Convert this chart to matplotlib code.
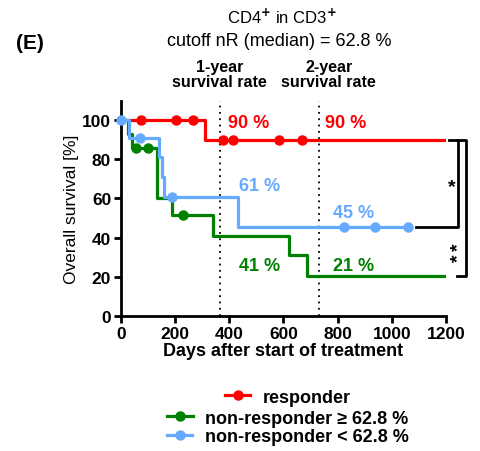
import matplotlib
matplotlib.use("Agg")
import matplotlib.pyplot as plt
from matplotlib.lines import Line2D

plt.rcParams['font.family'] = ['Liberation Sans', 'DejaVu Sans']
plt.rcParams['font.weight'] = 'bold'

# Kaplan-Meier steps (days, survival %)
resp_t = [0, 310, 1200]
resp_s = [100, 90, 90]
resp_cens_t = [74, 203, 266, 377, 413, 583, 668]
resp_cens_s = [100, 100, 100, 90, 90, 90, 90]

high_t = [0, 26, 41, 133, 188, 340, 620, 687, 1200]
high_s = [100, 93, 86, 60, 51.4, 41, 31, 20.5, 20.5]
high_cens_t = [55, 100, 229]
high_cens_s = [86, 86, 51.4]

low_t = [0, 30, 140, 151, 160, 432, 1060]
low_s = [100, 90.9, 81, 71, 61, 45.5, 45.5]
low_cens_t = [0, 70, 190, 824, 938, 1060]
low_cens_s = [100, 90.9, 61, 45.5, 45.5, 45.5]

labels = ['responder', 'non-responder \u2265 62.8 %', 'non-responder < 62.8 %']
colors = ['#ff0000', '#008000', '#64aaff']

# rate labels: (day, %, text, color index)
rate_x = [473, 830, 510, 860, 510, 860]
rate_y = [99, 99, 66.5, 53, 25.6, 25.6]
rate_txt = ['90 %', '90 %', '61 %', '45 %', '41 %', '21 %']
rate_col = [0, 0, 2, 2, 1, 1]

fig = plt.figure(figsize=(4.8, 4.52), dpi=100)
ax = fig.add_axes([0.252, 0.299, 0.677, 0.476])

groups = [(resp_t, resp_s, resp_cens_t, resp_cens_s),
          (high_t, high_s, high_cens_t, high_cens_s),
          (low_t, low_s, low_cens_t, low_cens_s)]
order = [2, 1, 0]
for i in order:
    t, s, ct, cs = groups[i]
    ax.plot(t, s, drawstyle='steps-post', color=colors[i], lw=2.3, zorder=3 + i)
    ax.plot(ct, cs, 'o', color=colors[i], ms=6.5, zorder=3 + i, clip_on=False)

ax.axvline(365, color='black', ls=(0, (1, 2.5)), lw=1.3, zorder=1)
ax.axvline(730, color='black', ls=(0, (1, 2.5)), lw=1.3, zorder=1)

for x, y, t, c in zip(rate_x, rate_y, rate_txt, rate_col):
    ax.text(x, y, t, color=colors[c], fontsize=13, fontweight='bold', ha='center', va='center')

# significance brackets
ax.plot([1213, 1245, 1245, 1090], [90, 90, 45.5, 45.5], color='black', lw=2, clip_on=False)
ax.plot([1240, 1275, 1275, 1240], [90, 90, 20.5, 20.5], color='black', lw=2, clip_on=False)
ax.text(1222, 66, '*', fontsize=14, fontweight='bold', ha='center', va='center')
ax.text(1248, 35.5, '*', fontsize=14, fontweight='bold', ha='center', va='center', rotation=90)
ax.text(1248, 30, '*', fontsize=14, fontweight='bold', ha='center', va='center', rotation=90)

ax.set_xlim(0, 1200)
ax.set_ylim(0, 110)
ax.set_xticks(range(0, 1201, 200))
ax.set_yticks(range(0, 101, 20))
ax.spines['top'].set_visible(False)
ax.spines['right'].set_visible(False)
ax.spines['left'].set_linewidth(2)
ax.spines['bottom'].set_linewidth(2)
ax.tick_params(width=2, length=5, labelsize=12.5, pad=2)
for lab in ax.get_xticklabels() + ax.get_yticklabels():
    lab.set_fontweight('bold')
ax.set_xlabel('Days after start of treatment', fontsize=13, fontweight='bold', labelpad=1)
ax.set_ylabel('Overall survival [%]', fontsize=12.5, fontweight='normal', labelpad=2)

fig.text(0.588, 0.963, 'CD4$^{+}$ in CD3$^{+}$', ha='center', va='center', fontsize=12, fontweight='normal')
fig.text(0.582, 0.909, 'cutoff nR (median) = 62.8 %', ha='center', va='center', fontsize=13, fontweight='normal')
fig.text(0.063, 0.904, '(E)', ha='center', va='center', fontsize=15, fontweight='bold')
fig.text(0.458, 0.835, '1-year\nsurvival rate', ha='center', va='center', fontsize=11.5, fontweight='bold', linespacing=1.0)
fig.text(0.685, 0.835, '2-year\nsurvival rate', ha='center', va='center', fontsize=11.5, fontweight='bold', linespacing=1.0)

legend_y = [0.119, 0.073, 0.031]
for i in range(3):
    h = Line2D([0], [0], color=colors[i], lw=2.3, marker='o', ms=6.5)
    fig.legend([h], [labels[i]], loc='center', bbox_to_anchor=(0.6, legend_y[i]), frameon=False,
               prop={'size': 13, 'weight': 'bold'}, handlelength=1.4, handletextpad=0.7,
               borderpad=0, borderaxespad=0)

fig.savefig('out.png', dpi=100)
